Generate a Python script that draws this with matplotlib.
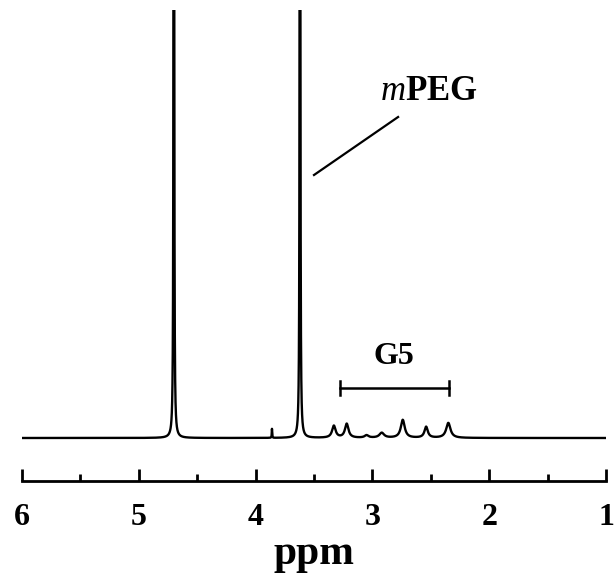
import numpy as np
import matplotlib
matplotlib.use("Agg")
import matplotlib.pyplot as plt

plt.rcParams['font.family'] = ['Liberation Serif', 'DejaVu Serif']
plt.rcParams['mathtext.fontset'] = 'custom'
plt.rcParams['mathtext.it'] = 'Liberation Serif:italic'
plt.rcParams['mathtext.bf'] = 'Liberation Serif:bold'
plt.rcParams['mathtext.rm'] = 'Liberation Serif'

# Peak list (chemical shift in ppm, height in arbitrary units, half width ppm)
peak_ppm = [4.70, 3.62, 3.86, 3.33, 3.22, 3.05, 2.92, 2.74, 2.54, 2.35]
peak_height = [3000.0, 3000.0, 9.0, 12.0, 14.0, 2.5, 5.0, 18.0, 11.0, 15.0]
peak_width = [0.0016, 0.0016, 0.002, 0.018, 0.018, 0.02, 0.024, 0.02, 0.017, 0.022]

tick_major = [6, 5, 4, 3, 2, 1]
tick_minor = [5.5, 4.5, 3.5, 2.5, 1.5]

x = np.linspace(6.0, 1.0, 40001)
y = np.zeros_like(x)
for p, h, w in zip(peak_ppm, peak_height, peak_width):
    y += h * w**2 / ((x - p)**2 + w**2)

fig = plt.figure(figsize=(6.16, 5.73), dpi=100)
ax = fig.add_axes([22/616, 1 - 481/573, 584/616, 471/573])
ax.plot(x, y, color='black', lw=1.7)
ax.set_xlim(6, 1)
ax.set_ylim(-43, 428)

for s in ['left', 'right', 'top']:
    ax.spines[s].set_visible(False)
ax.spines['bottom'].set_linewidth(2.0)
ax.set_yticks([])
ax.set_xticks(tick_major)
ax.set_xticks(tick_minor, minor=True)
ax.tick_params(axis='x', which='major', direction='in', length=9, width=2, pad=16, labelsize=23)
ax.tick_params(axis='x', which='minor', direction='in', length=5, width=2)
for lab in ax.get_xticklabels():
    lab.set_fontweight('bold')
ax.set_xlabel('ppm', fontsize=30, fontweight='bold', labelpad=2)

# G5 bracket
gx0, gx1, gy = 3.277, 2.344, 50
ax.plot([gx0, gx1], [gy, gy], color='black', lw=1.8)
ax.plot([gx0, gx0], [gy - 7, gy + 7], color='black', lw=1.8)
ax.plot([gx1, gx1], [gy - 7, gy + 7], color='black', lw=1.8)
ax.text(2.82, 82, 'G5', fontsize=23, fontweight='bold', ha='center', va='center')

# mPEG label
ax.plot([3.50, 2.78], [263, 321], color='black', lw=1.6)
ax.text(2.935, 338, r'$\mathit{m}\mathbf{PEG}$', fontsize=25, ha='left', va='baseline')

fig.savefig('out.png', dpi=100)
